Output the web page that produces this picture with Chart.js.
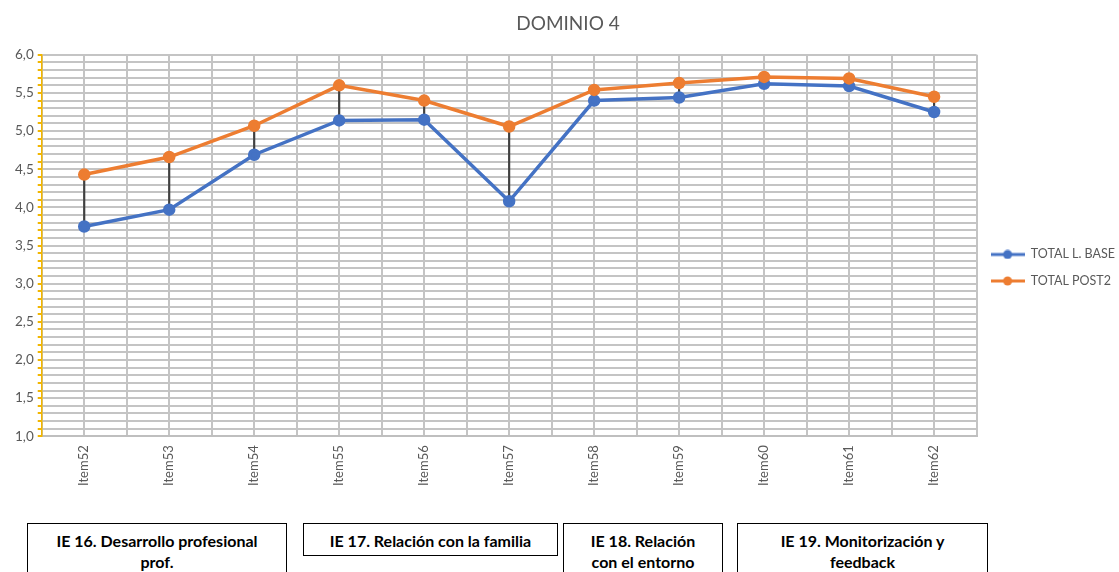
<!DOCTYPE html>
<html>
<head>
<meta charset="utf-8">
<script src="https://cdn.jsdelivr.net/npm/chart.js@4/dist/chart.umd.min.js"></script>
<style>
  body { margin: 0; background: #fff; width: 1119px; height: 572px; overflow: hidden; position: relative; font-family: Lato, "Open Sans", sans-serif; }
  #wrap { position: absolute; left: 0; top: 0; width: 1119px; height: 495px; }
  .box { position: absolute; border: 1.5px solid #000; box-sizing: border-box; text-align: center;
         font-weight: bold; font-size: 16px; line-height: 21px; color: #000; padding-top: 6px; background: #fff; }
</style>
</head>
<body>
<div id="wrap"><canvas id="chart"></canvas></div>
<div class="box" style="left:27px; top:523px; width:260px; height:60px;">IE 16. Desarrollo profesional<br>prof.</div>
<div class="box" style="left:303px; top:523px; width:255px; height:33px;">IE 17. Relación con la familia</div>
<div class="box" style="left:563px; top:523px; width:160px; height:60px;">IE 18. Relación<br>con el entorno</div>
<div class="box" style="left:737px; top:523px; width:251px; height:60px;">IE 19. Monitorización y<br>feedback</div>
<script>
// datos
const items = ["Item52","Item53","Item54","Item55","Item56","Item57","Item58","Item59","Item60","Item61","Item62"];
const totalBase  = [3.75, 3.97, 4.69, 5.14, 5.15, 4.08, 5.40, 5.44, 5.62, 5.59, 5.25];
const totalPost2 = [4.43, 4.66, 5.07, 5.60, 5.40, 5.06, 5.54, 5.63, 5.71, 5.69, 5.45];

const azul = "#4472C4";
const naranja = "#ED7D31";
const gris = "#595959";

// lineas verticales entre las dos series (barras flotantes muy finas)
const dropLines = items.map((_, i) => [totalBase[i], totalPost2[i]]);

// icono de leyenda: linea con punto
function legendIcon(color) {
  const c = document.createElement("canvas");
  c.width = 34; c.height = 10;
  const ctx = c.getContext("2d");
  ctx.strokeStyle = color; ctx.lineWidth = 3;
  ctx.beginPath(); ctx.moveTo(0, 5); ctx.lineTo(34, 5); ctx.stroke();
  ctx.fillStyle = color;
  ctx.beginPath(); ctx.arc(17, 5, 4.5, 0, Math.PI * 2); ctx.fill();
  return c;
}

const chart = new Chart(document.getElementById("chart"), {
  data: {
    labels: items,
    datasets: [{
      type: "line",
      label: "TOTAL L. BASE",
      data: totalBase,
      borderColor: azul,
      backgroundColor: azul,
      borderWidth: 3.5,
      pointRadius: 4.5,
      pointHoverRadius: 4.5,
      order: 2
    }, {
      type: "line",
      label: "TOTAL POST2",
      data: totalPost2,
      borderColor: naranja,
      backgroundColor: naranja,
      borderWidth: 3.5,
      pointRadius: 4.5,
      pointHoverRadius: 4.5,
      order: 1
    }, {
      type: "bar",
      label: "drop",
      data: dropLines,
      backgroundColor: "#404040",
      barThickness: 1.5,
      order: 3
    }]
  },
  options: {
    responsive: true,
    maintainAspectRatio: false,
    animation: false,
    layout: { padding: { left: 11, right: -6, top: 0, bottom: 0 } },
    plugins: {
      title: {
        display: true,
        text: "DOMINIO 4",
        color: gris,
        font: { family: "Lato", size: 19, weight: "normal" },
        padding: { top: 12, bottom: 20 }
      },
      legend: {
        position: "right",
        title: {
          display: true,
          text: " ",
          font: { size: 12 },
          padding: { top: 13, bottom: 13 }
        },
        labels: {
          usePointStyle: true,
          pointStyleWidth: 34,
          padding: 14,
          color: gris,
          font: { family: "Lato", size: 12.5 },
          generateLabels: (c) => [0, 1].map(i => ({
            text: c.data.datasets[i].label,
            fontColor: gris,
            pointStyle: legendIcon(i === 0 ? azul : naranja),
            datasetIndex: i,
            lineWidth: 0,
            strokeStyle: "transparent",
            fillStyle: "transparent"
          }))
        }
      },
      tooltip: { enabled: false }
    },
    scales: {
      x: {
        offset: true,
        grid: { offset: false, color: "#c4c4c4", lineWidth: 2, drawTicks: false },
        border: { color: "#bfbfbf", width: 2 },
        ticks: {
          color: gris,
          font: { family: "Lato", size: 13 },
          minRotation: 90,
          maxRotation: 90,
          padding: 9
        }
      },
      xb: {
        type: "category",
        labels: items,
        position: "bottom",
        offset: true,
        grid: { offset: true, color: "#c4c4c4", lineWidth: 2, drawTicks: false },
        border: { display: false },
        ticks: { display: false }
      },
      y: {
        min: 1,
        max: 6,
        grid: { color: "#c4c4c4", lineWidth: 2, tickColor: "#F2B600", tickLength: 4 },
        border: { color: "#F2B600", width: 1.5 },
        ticks: {
          stepSize: 0.1,
          autoSkip: false,
          color: gris,
          padding: 4,
          font: { family: "Lato", size: 13.5 },
          callback: (v) => {
            const d = Math.round(v * 10);
            return d % 5 === 0 ? (d / 10).toFixed(1).replace(".", ",") : "";
          }
        }
      }
    }
  }
});
</script>
</body>
</html>
